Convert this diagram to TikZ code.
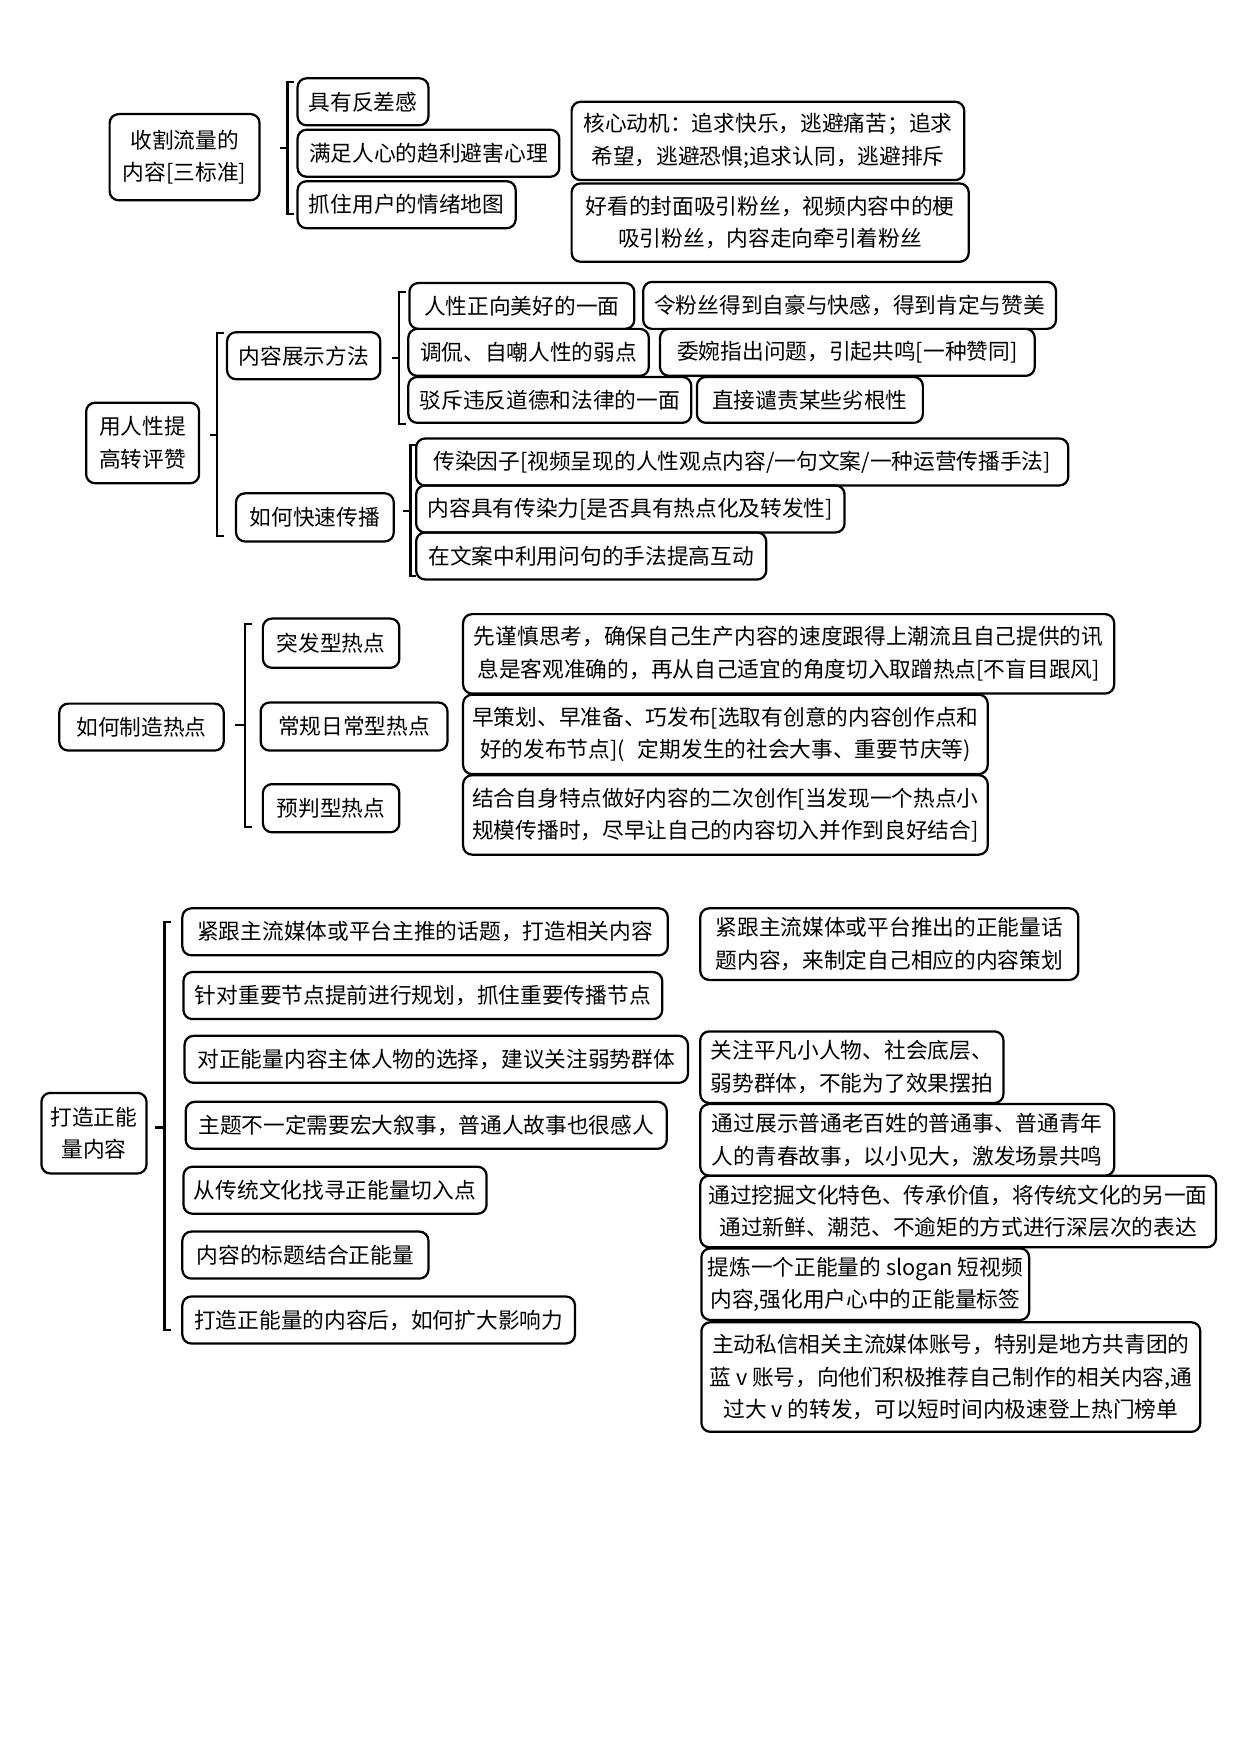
\documentclass[tikz,border=0pt]{standalone}
\usepackage{fontspec}
\setmainfont{Noto Sans CJK SC}
\tikzset{
  box/.style={draw, line width=1pt, rounded corners=4pt, inner sep=0pt, align=center,
    font=\fontsize{9.7pt}{14.5pt}\selectfont},
  brk/.style={line width=1pt},
}
\newcommand\bxnode[6]{\node[box, minimum width={(#4-#2)*0.5pt}, minimum height={(#5-#3)*0.5pt}] (#1) at ({(#2+#4)/2},{(#3+#5)/2}) {#6};}
\begin{document}
\begin{tikzpicture}[x=0.5pt,y=-0.5pt]
\useasboundingbox (0,0) rectangle (1109,1568);
% ---------- section 1
\bxnode{a1}{98}{102}{232}{179}{收割流量的\\内容[三标准]}
\bxnode{a11}{266}{70}{383}{112}{具有反差感}
\bxnode{a12}{266}{116}{500}{158}{满足人心的趋利避害心理}
\bxnode{a13}{266}{162}{461}{204}{抓住用户的情绪地图}
\bxnode{a14}{511}{91}{862}{161}{核心动机：追求快乐，逃避痛苦；追求\\希望，逃避恐惧;追求认同，逃避排斥}
\bxnode{a15}{511}{164}{866}{234}{好看的封面吸引粉丝，视频内容中的梗\\吸引粉丝，内容走向牵引着粉丝}
\coordinate (k1s) at (250,132); \coordinate (k1m) at (257,132);
\coordinate (k1t) at (257,73); \coordinate (k1b) at (257,191);
\draw[brk] (k1s) -- (k1m);
\draw[brk] ([xshift=3pt]k1t) -- (k1t) -- (k1b) -- ([xshift=3pt]k1b);
% ---------- section 2
\bxnode{b}{77}{360}{178}{432}{用人性提\\高转评赞}
\bxnode{b1}{203}{297}{340}{339}{内容展示方法}
\bxnode{b2}{211}{441}{352}{484}{如何快速传播}
\bxnode{b11}{366}{253}{567}{294}{人性正向美好的一面}
\bxnode{b11r}{575}{252}{944}{294}{令粉丝得到自豪与快感，得到肯定与赞美}
\bxnode{b12}{365}{294}{580}{336}{调侃、自嘲人性的弱点}
\bxnode{b12r}{590}{294}{925}{336}{委婉指出问题，引起共鸣[一种赞同]}
\bxnode{b13}{365}{337}{618}{378}{驳斥违反道德和法律的一面}
\bxnode{b13r}{623}{337}{825}{378}{直接谴责某些劣根性}
\bxnode{b21}{372}{392}{955}{434}{传染因子[视频呈现的人性观点内容/一句文案/一种运营传播手法]}
\bxnode{b22}{372}{434}{755}{476}{内容具有传染力[是否具有热点化及转发性]}
\bxnode{b23}{372}{476}{685}{518}{在文案中利用问句的手法提高互动}
\coordinate (k2s) at (188,389); \coordinate (k2m) at (194,389);
\coordinate (k2t) at (194,298); \coordinate (k2b) at (194,479);
\draw[brk] (k2s) -- (k2m);
\draw[brk] ([xshift=3pt]k2t) -- (k2t) -- (k2b) -- ([xshift=3pt]k2b);
\coordinate (k3s) at (350,320); \coordinate (k3m) at (357,320);
\coordinate (k3t) at (357,261); \coordinate (k3b) at (357,379);
\draw[brk] (k3s) -- (k3m);
\draw[brk] ([xshift=3pt]k3t) -- (k3t) -- (k3b) -- ([xshift=3pt]k3b);
\coordinate (k4s) at (360,457); \coordinate (k4m) at (367,457);
\coordinate (k4t) at (367,398); \coordinate (k4b) at (367,515);
\draw[brk] (k4s) -- (k4m);
\draw[brk] ([xshift=2.5pt]k4t) -- (k4t) -- (k4b) -- ([xshift=2.5pt]k4b);
% ---------- section 3
\bxnode{c}{53}{629}{200}{671}{如何制造热点}
\bxnode{c1}{235}{553}{357}{597}{突发型热点}
\bxnode{c2}{233}{628}{400}{671}{常规日常型热点}
\bxnode{c3}{235}{701}{357}{744}{预判型热点}
\bxnode{c11}{414}{549}{996}{620}{先谨慎思考，确保自己生产内容的速度跟得上潮流且自己提供的讯\\息是客观准确的，再从自己适宜的角度切入取蹭热点[不盲目跟风]}
\bxnode{c12}{414}{621}{883}{692}{早策划、早准备、巧发布[选取有创意的内容创作点和\\好的发布节点](\hspace{0.6em}定期发生的社会大事、重要节庆等)}
\bxnode{c13}{414}{693}{883}{764}{结合自身特点做好内容的二次创作[当发现一个热点小\\规模传播时，尽早让自己的内容切入并作到良好结合]}
\coordinate (k5s) at (210,648); \coordinate (k5m) at (219,648);
\coordinate (k5t) at (219,558); \coordinate (k5b) at (219,739);
\draw[brk] (k5s) -- (k5m);
\draw[brk] ([xshift=3pt]k5t) -- (k5t) -- (k5b) -- ([xshift=3pt]k5b);
% ---------- section 4
\bxnode{d}{37}{977}{131}{1049}{打造正能\\量内容}
\bxnode{d1}{163}{812}{597}{854}{紧跟主流媒体或平台主推的话题，打造相关内容}
\bxnode{d2}{164}{869}{592}{911}{针对重要节点提前进行规划，抓住重要传播节点}
\bxnode{d3}{165}{926}{615}{968}{对正能量内容主体人物的选择，建议关注弱势群体}
\bxnode{d4}{166}{985}{596}{1027}{主题不一定需要宏大叙事，普通人故事也很感人}
\bxnode{d5}{164}{1043}{435}{1085}{从传统文化找寻正能量切入点}
\bxnode{d6}{163}{1101}{383}{1143}{内容的标题结合正能量}
\bxnode{d7}{163}{1159}{514}{1201}{打造正能量的内容后，如何扩大影响力}
\bxnode{d1r}{626}{812}{964}{876}{紧跟主流媒体或平台推出的正能量话\\题内容，来制定自己相应的内容策划}
\bxnode{d3r}{626}{922}{897}{986}{关注平凡小人物、社会底层、\\弱势群体，不能为了效果摆拍}
\bxnode{d4r}{626}{987}{996}{1051}{通过展示普通老百姓的普通事、普通青年\\人的青春故事，以小见大，激发场景共鸣}
\bxnode{d5r}{626}{1051}{1087}{1115}{通过挖掘文化特色、传承价值，将传统文化的另一面\\通过新鲜、潮范、不逾矩的方式进行深层次的表达}
\bxnode{d6r}{627}{1116}{920}{1180}{提炼一个正能量的 slogan 短视频\\内容,强化用户心中的正能量标签}
\bxnode{d7r}{627}{1182}{1073}{1280}{主动私信相关主流媒体账号，特别是地方共青团的\\蓝 v 账号，向他们积极推荐自己制作的相关内容,通\\过大 v 的转发，可以短时间内极速登上热门榜单}
\coordinate (k6s) at (139,1008); \coordinate (k6m) at (147,1008);
\coordinate (k6t) at (147,824); \coordinate (k6b) at (147,1189);
\draw[brk] (k6s) -- (k6m);
\draw[brk] ([xshift=3pt]k6t) -- (k6t) -- (k6b) -- ([xshift=3pt]k6b);
\end{tikzpicture}
\end{document}
